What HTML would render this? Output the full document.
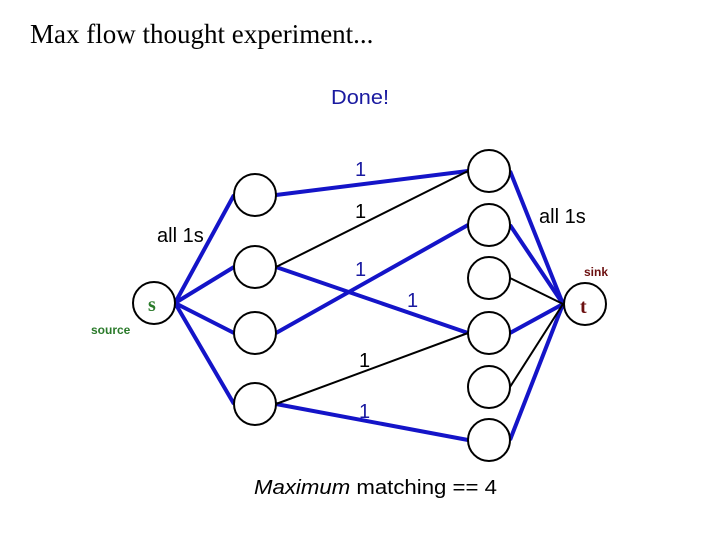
<!DOCTYPE html>
<html><head><style>
body{margin:0;background:#fff;width:720px;height:540px;overflow:hidden}
</style></head><body>
<svg width="720" height="540" xmlns="http://www.w3.org/2000/svg">
<text x="30" y="43" font-family="Liberation Serif, serif" font-size="27" fill="#000">Max flow thought experiment...</text>
<text x="331" y="104" font-family="Liberation Sans, sans-serif" font-size="20" fill="#1a1aa0" textLength="58" lengthAdjust="spacingAndGlyphs">Done!</text>
<g stroke="#1414c8" stroke-width="4" fill="none">
<line x1="175" y1="303" x2="234" y2="195"/>
<line x1="175" y1="303" x2="234" y2="267"/>
<line x1="175" y1="303" x2="234" y2="333"/>
<line x1="175" y1="303" x2="234" y2="404"/>
<line x1="276" y1="195" x2="468" y2="171"/>
<line x1="276" y1="267" x2="468" y2="333"/>
<line x1="276" y1="333" x2="468" y2="225"/>
<line x1="276" y1="404" x2="468" y2="440"/>
<line x1="510" y1="171" x2="563" y2="304"/>
<line x1="510" y1="225" x2="563" y2="304"/>
<line x1="510" y1="333" x2="563" y2="304"/>
<line x1="510" y1="440" x2="563" y2="304"/>
</g>
<g stroke="#000" stroke-width="2">
<line x1="276" y1="267" x2="468" y2="171"/>
<line x1="276" y1="404" x2="468" y2="333"/>
<line x1="510" y1="278" x2="563" y2="304"/>
<line x1="510" y1="387" x2="563" y2="304"/>
</g>
<g stroke="#000" stroke-width="2" fill="#fff">
<circle cx="154" cy="303" r="21"/>
<circle cx="585" cy="304" r="21"/>
<circle cx="255" cy="195" r="21"/>
<circle cx="255" cy="267" r="21"/>
<circle cx="255" cy="333" r="21"/>
<circle cx="255" cy="404" r="21"/>
<circle cx="489" cy="171" r="21"/>
<circle cx="489" cy="225" r="21"/>
<circle cx="489" cy="278" r="21"/>
<circle cx="489" cy="333" r="21"/>
<circle cx="489" cy="387" r="21"/>
<circle cx="489" cy="440" r="21"/>
</g>
<text x="148" y="311" font-family="Liberation Serif, serif" font-size="20" font-weight="bold" fill="#2a7a2a">s</text>
<text x="580" y="313" font-family="Liberation Serif, serif" font-size="20" font-weight="bold" fill="#6b0f0f">t</text>
<text x="91" y="334" font-family="Liberation Sans, sans-serif" font-size="12" font-weight="bold" fill="#2a7a2a">source</text>
<text x="584" y="276" font-family="Liberation Sans, sans-serif" font-size="12" font-weight="bold" fill="#6b0f0f">sink</text>
<g font-family="Liberation Sans, sans-serif" font-size="20">
<text x="157" y="242" fill="#000">all 1s</text>
<text x="539" y="223" fill="#000">all 1s</text>
<text x="355" y="176" fill="#1a1aa0">1</text>
<text x="355" y="218" fill="#000">1</text>
<text x="355" y="276" fill="#1a1aa0">1</text>
<text x="407" y="307" fill="#1a1aa0">1</text>
<text x="359" y="367" fill="#000">1</text>
<text x="359" y="418" fill="#1a1aa0">1</text>
<text x="254" y="494" fill="#000" textLength="243" lengthAdjust="spacingAndGlyphs"><tspan font-style="italic">Maximum</tspan> matching == 4</text>
</g>
</svg>
</body></html>
